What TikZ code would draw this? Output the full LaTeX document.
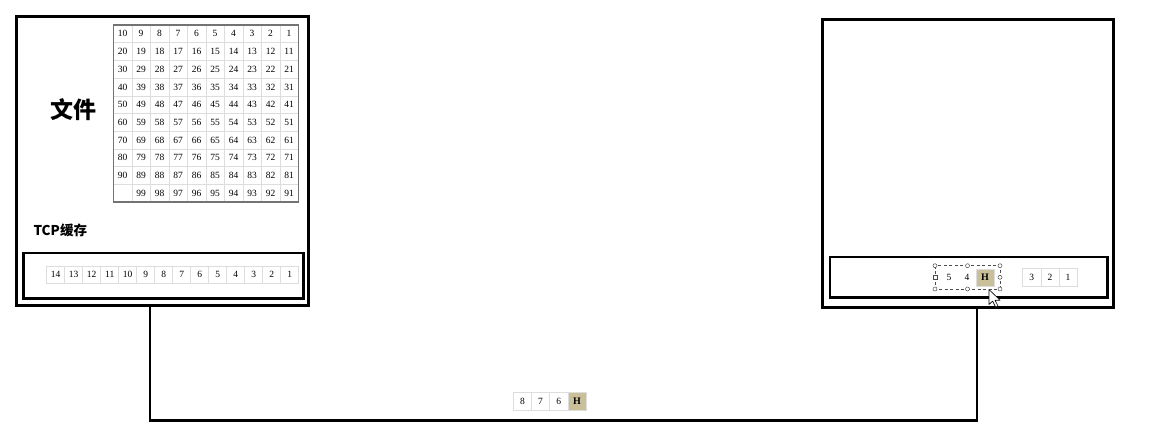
\documentclass[tikz,border=0pt]{standalone}
\usepackage{fontspec}
\setmainfont{Liberation Serif}
\newfontfamily\cjk{Noto Sans CJK SC}
\usetikzlibrary{calc,positioning}
\definecolor{cellline}{HTML}{DDDDDD}
\definecolor{hilite}{HTML}{C9C09A}
\tikzset{
  hostbox/.style={draw=black, line width=3pt, inner sep=0pt, outer sep=0pt},
  bufbox/.style={draw=black, line width=2.8pt, inner sep=0pt, outer sep=0pt},
  cell/.style={draw=cellline, line width=0.6pt, fill=white, inner sep=0pt, outer sep=0pt,
    font=\fontsize{9.5}{9.5}\selectfont},
  hcell/.style={cell, fill=hilite, font=\fontsize{10}{10}\selectfont\bfseries},
  wire/.style={draw=black, line width=2.8pt},
  handle/.style={draw=black!70, line width=0.5pt, fill=white, circle, inner sep=0pt, minimum size=4pt},
  sqhandle/.style={draw=black!70, line width=0.5pt, fill=white, rectangle, inner sep=0pt, minimum size=3.5pt},
  seldash/.style={draw=black!70, line width=0.7pt, dash pattern=on 3pt off 2.5pt},
}
\begin{document}
\begin{tikzpicture}[x=1pt,y=-1pt]
\useasboundingbox (0,0) rectangle (1161,447);
% hosts
\node[hostbox, minimum width=291.5pt, minimum height=288.5pt] (sender) at (162.25,160.75) {};
\node[bufbox, minimum width=280pt, minimum height=45.5pt] (sbuf) at (163.5,275.75) {};
\node[hostbox, minimum width=291pt, minimum height=288.5pt] (receiver) at (967.5,163.25) {};
\node[bufbox, minimum width=277.5pt, minimum height=40.5pt] (rbuf) at (968.75,277.25) {};
% labels
\node[font=\cjk\bfseries\fontsize{23}{23}\selectfont] (filelbl) at (73,110) {文件};
\node[font=\cjk\bfseries\fontsize{13.5}{13.5}\selectfont, anchor=west] (tcplbl) at (30,230) {TCP缓存};
% file grid
\foreach \r in {0,...,9}{
  \foreach \c in {0,...,9}{
    \pgfmathtruncatemacro{\v}{\r*10+10-\c}
    \ifnum\v=100
      \node[cell, minimum width=18.5pt, minimum height=17.7pt] (g-\r-\c) at ({113.3+18.5*\c+9.25},{25+17.7*\r+8.85}) {};
    \else
      \node[cell, minimum width=18.5pt, minimum height=17.7pt] (g-\r-\c) at ({113.3+18.5*\c+9.25},{25+17.7*\r+8.85}) {\v};
    \fi
  }
}
\draw[draw=black!55, line width=1.2pt] (g-0-0.north west) rectangle (g-9-9.south east);
% sender buffer row
\foreach \i in {0,...,13}{
  \pgfmathtruncatemacro{\v}{14-\i}
  \node[cell, minimum width=18pt, minimum height=17pt] (s-\i) at ({46.7+18*\i+9},274.5) {\v};
}
% connector
\coordinate (wa) at ([xshift=-12.25pt]sender.south);
\coordinate (wb) at ([xshift=9.5pt]receiver.south);
\draw[wire, line join=miter] (wa) -- (wa |- 0,420.5) -- (wb |- 0,420.5) -- (wb);
% packet in flight
\node[cell, minimum width=18.2pt, minimum height=17.3pt] (p-0) at (522.4,401.35) {8};
\node[cell, minimum width=18.2pt, minimum height=17.3pt, right=0pt of p-0] (p-1) {7};
\node[cell, minimum width=18.2pt, minimum height=17.3pt, right=0pt of p-1] (p-2) {6};
\node[hcell, minimum width=18.2pt, minimum height=17.3pt, right=0pt of p-2] (p-3) {H};
% receiver buffer
\node[cell, minimum width=18pt, minimum height=17pt, draw=white] (r-5) at (949,277.5) {5};
\node[cell, minimum width=18pt, minimum height=17pt, draw=white, right=0pt of r-5] (r-4) {4};
\node[hcell, minimum width=18pt, minimum height=17pt, right=0pt of r-4] (r-h) {H};
\node[cell, minimum width=18.1pt, minimum height=18pt] (r-3) at (1031.8,277) {3};
\node[cell, minimum width=18.1pt, minimum height=18pt, right=0pt of r-3] (r-2) {2};
\node[cell, minimum width=18.1pt, minimum height=18pt, right=0pt of r-2] (r-1) {1};
% selection frame
\coordinate (selnw) at (935,265.7);
\coordinate (selse) at (1000,289);
\draw[seldash] (selnw) rectangle (selse);
\foreach \p/\n in {{(935,265.7)}/h1,{(967.5,265.7)}/h2,{(1000,265.7)}/h3,{(935,289)}/h4,{(967.5,289)}/h5,{(1000,289)}/h6,{(1000,277.3)}/h7}{
  \node[handle] (\n) at \p {};
}
\node[sqhandle] (h8) at (935,277.3) {};
% mouse cursor
\draw[fill=white, draw=black, line width=0.6pt, line join=round]
  (989,289.5) -- ++(0,15) -- ++(3.6,-3.4) -- ++(3,6) -- ++(2.4,-1.1) -- ++(-3,-5.8) -- ++(5,0) -- cycle;
\end{tikzpicture}
\end{document}
